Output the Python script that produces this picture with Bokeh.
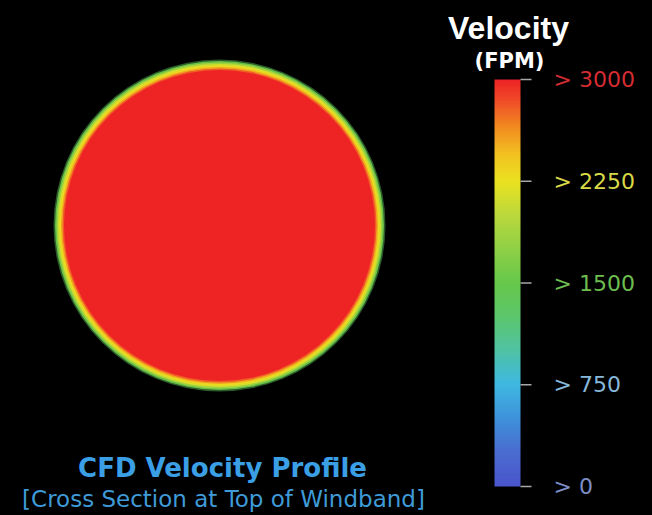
import numpy as np
from bokeh.plotting import figure
from bokeh.models import Range1d, LinearColorMapper
from bokeh.core.properties import value
from bokeh.embed import file_html
from bokeh.resources import INLINE

# ---------------- data ----------------
tick_values = [0, 750, 1500, 2250, 3000]
tick_labels = ["> 0", "> 750", "> 1500", "> 2250", "> 3000"]
label_colors = ["#7d8ec6", "#86b9da", "#6dbd4f", "#d9d948", "#d42c30"]

# radial velocity profile at top of windband: r/R (outer edge -> core) and FPM
profile_r = [1.000, 0.991, 0.982, 0.973, 0.964, 0.955, 0.946, 0.937]
profile_v = [1350, 1550, 1850, 2150, 2300, 2550, 2800, 3000]

title_text = "Velocity"
unit_text = "(FPM)"
caption1 = "CFD Velocity Profile"
caption2 = "[Cross Section at Top of Windband]"

# ---------------- palette (blue -> cyan -> green -> yellow -> red) ----------------
stops = [(0, (74, 86, 204)), (250, (74, 108, 208)), (500, (62, 146, 218)),
         (750, (62, 184, 226)), (1000, (80, 194, 164)), (1250, (92, 198, 108)),
         (1500, (102, 200, 74)), (1750, (142, 208, 70)), (2000, (186, 216, 60)),
         (2250, (234, 226, 32)), (2450, (242, 194, 32)), (2650, (242, 140, 32)),
         (2850, (240, 76, 40)), (3000, (238, 36, 36))]
sv = np.array([s[0] for s in stops], float)
sc = np.array([s[1] for s in stops], float)
grid = np.linspace(0, 3000, 256)
palette = ["#%02x%02x%02x" % tuple(int(round(np.interp(g, sv, sc[:, k]))) for k in range(3)) for g in grid]
mapper = LinearColorMapper(palette=palette, low=0, high=3000)

def vcolor(v):
    i = int(round(v / 3000 * 255))
    return palette[max(0, min(255, i))]

# ---------------- figure ----------------
W, H = 652, 515
p = figure(width=W, height=H, output_backend="svg", toolbar_location=None,
           x_range=Range1d(0, W), y_range=Range1d(H, 0),
           x_axis_type=None, y_axis_type=None, min_border=0,
           background_fill_color="black", border_fill_color="black",
           outline_line_color=None)
p.grid.visible = False

# velocity scale for the colour bar
VEL_TOP_PX, VEL_BOT_PX = 79, 486
upp = 3000 / (VEL_BOT_PX - VEL_TOP_PX)
p.extra_y_ranges = {"vel": Range1d(0 - (H - VEL_BOT_PX) * upp, 3000 + VEL_TOP_PX * upp)}

# ---------------- cross-section disk ----------------
CX, CY, R = 219, 225, 166
alphas = [0.45, 0.9] + [1.0] * (len(profile_r) - 2)
for rf, v, a in zip(profile_r, profile_v, alphas):
    p.circle(x=[CX], y=[CY], radius=R * rf, fill_color=vcolor(v), fill_alpha=a,
             line_color=None)

# ---------------- colour bar ----------------
vals = np.linspace(0, 3000, 601).reshape(-1, 1)
p.image(image=[vals], x=494, y=0, dw=26, dh=3000, color_mapper=mapper,
        y_range_name="vel")
p.segment(x0=[520] * len(tick_values), x1=[531] * len(tick_values),
          y0=tick_values, y1=tick_values, line_color="#a8a8a8", line_width=1.5,
          y_range_name="vel")
p.text(x=[553] * len(tick_values), y=tick_values, text=tick_labels,
       text_color=label_colors, text_font=value("DejaVu Sans"),
       text_font_size="22px", text_baseline="middle", text_align="left",
       y_range_name="vel")

# ---------------- titles ----------------
p.text(x=[508], y=[27], text=[title_text], text_color="white",
       text_font=value("Liberation Sans"), text_font_style="bold",
       text_font_size="32px", text_align="center", text_baseline="middle")
p.text(x=[509], y=[60], text=[unit_text], text_color="white",
       text_font=value("DejaVu Sans"), text_font_style="bold",
       text_font_size="21px", text_align="center", text_baseline="middle")
p.text(x=[222], y=[467], text=[caption1], text_color="#3b9fe6",
       text_font=value("DejaVu Sans"), text_font_style="bold",
       text_font_size="26px", text_align="center", text_baseline="middle")
p.text(x=[223], y=[498], text=[caption2], text_color="#3f9bd8",
       text_font=value("DejaVu Sans"), text_font_size="23px",
       text_align="center", text_baseline="middle")

html = file_html(p, INLINE)
html = html.replace("</head>", "<style>html,body{margin:0;padding:0;background:#000;}</style></head>")
open("out.html", "w").write(html)
